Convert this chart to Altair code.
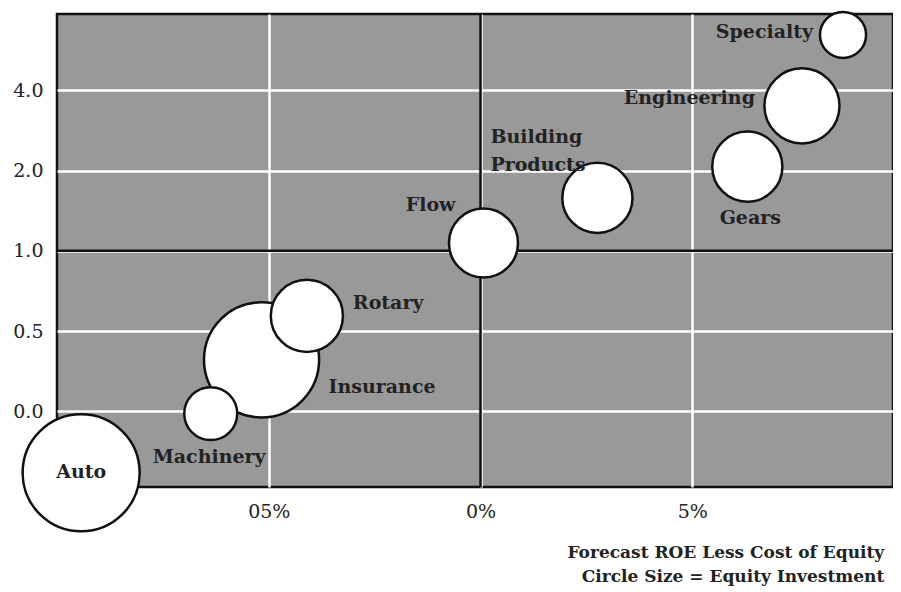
import altair as alt
import pandas as pd

# ---- data ----
sectors = ["Insurance", "Auto", "Machinery", "Rotary", "Flow",
           "Building Products", "Gears", "Engineering", "Specialty"]
roe_spread = [-5.17, -9.43, -6.37, -4.10, 0.07, 2.76, 6.30, 7.59, 8.56]   # % forecast ROE less cost of equity
price_book = [0.39, 0.147, 0.245, 0.57, 1.07, 1.58, 2.07, 3.50, 6.46]     # y value (log scale)
equity = [3.31, 3.42, 0.70, 1.30, 1.19, 1.23, 1.23, 1.41, 0.53]          # equity investment (circle area)

x_ticks = [-5, 0, 5]
y_ticks = [0.25, 0.5, 1, 2, 4]
note_lines = ["Forecast ROE Less Cost of Equity", "Circle Size = Equity Investment"]

df = pd.DataFrame({"sector": sectors, "roe": roe_spread, "pb": price_book, "equity": equity})

FONT = "DejaVu Serif"
W, H = 836, 473

x_scale = alt.Scale(domain=[-10, 9.74], nice=False, zero=False)
y_scale = alt.Scale(type="log", base=2, domain=[0.130, 7.74], nice=False)

x_enc = alt.X("roe:Q", scale=x_scale, axis=alt.Axis(
    values=x_ticks, title=None, domain=False, ticks=False, grid=True,
    gridColor="white", gridWidth=2.5, gridOpacity=1,
    labelExpr="datum.value == -5 ? '05%' : datum.value + '%'",
    labelFont=FONT, labelFontSize=19, labelColor="#222", labelPadding=15))
y_enc = alt.Y("pb:Q", scale=y_scale, axis=alt.Axis(
    values=y_ticks, title=None, domain=False, ticks=False, grid=True,
    gridColor="white", gridWidth=2.5, gridOpacity=1,
    labelExpr="datum.value == 0.25 ? '0.0' : format(datum.value, '.1f')",
    labelFont=FONT, labelFontSize=19, labelColor="#222", labelPadding=14))

base = alt.Chart(df)

grid = base.mark_point(opacity=0).encode(x=x_enc, y=y_enc)

vline = alt.Chart(pd.DataFrame({"roe": [0]})).mark_rule(color="#111", strokeWidth=2.5).encode(
    x=alt.X("roe:Q", scale=x_scale))
hline = alt.Chart(pd.DataFrame({"pb": [1.0]})).mark_rule(color="#111", strokeWidth=2.5).encode(
    y=alt.Y("pb:Q", scale=y_scale))

bubbles = base.mark_circle(fill="white", stroke="#111", strokeWidth=2.5, opacity=1).encode(
    x=alt.X("roe:Q", scale=x_scale),
    y=alt.Y("pb:Q", scale=y_scale),
    size=alt.Size("equity:Q", scale=alt.Scale(domain=[0, 3.42], range=[0, 13689]), legend=None),
    order=alt.Order("equity:Q", sort="descending"),
)

# label placement (style): align, dx, dy relative to bubble centre
label_style = {
    "Specialty": ("right", -30, -3),
    "Engineering": ("right", -47, -8),
    "Gears": ("center", 3, 51),
    "Building Products": ("left", -107, -61),
    "Flow": ("right", -28, -38),
    "Rotary": ("left", 46, -13),
    "Insurance": ("left", 67, 27),
    "Machinery": ("left", -58, 43),
    "Auto": ("center", 0, -1),
}

label_layers = []
for name, (al, dx, dy) in label_style.items():
    label_layers.append(
        base.transform_filter(alt.datum.sector == name)
        .transform_calculate(lbl="replace(datum.sector, ' ', '\\n')")
        .mark_text(font=FONT, fontSize=19, fontWeight="bold", color="#222",
                   align=al, baseline="middle", dx=dx, dy=dy,
                   lineBreak="\n", lineHeight=28)
        .encode(x=alt.X("roe:Q", scale=x_scale), y=alt.Y("pb:Q", scale=y_scale), text="lbl:N")
    )

chart = alt.layer(grid, vline, hline, bubbles, *label_layers).properties(
    width=W, height=H,
    title=alt.TitleParams(text=note_lines, orient="bottom", anchor="end",
                          font=FONT, fontSize=17, fontWeight="bold", color="#222",
                          lineHeight=24, offset=9, dx=-10),
    autosize=alt.AutoSizeParams(type="none"),
    padding={"left": 49, "top": 6, "right": 0, "bottom": 100},
).configure_view(fill="#999999", stroke="#111", strokeWidth=2.5)

chart.save("out.html", embed_options={"renderer": "svg", "actions": False})
